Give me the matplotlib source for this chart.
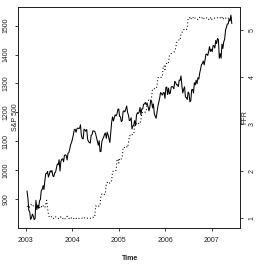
import matplotlib
matplotlib.use("Agg")
import matplotlib.pyplot as plt
import numpy as np
import pandas as pd

# Weekly S&P 500 closes (Fridays), Jan 2003 - Jun 2007
sp_2003 = [927.6, 901.8, 861.4, 855.7, 829.7, 834.9, 848.2, 841.2, 828.9, 833.3, 895.8, 863.5,
           878.9, 868.3, 893.6, 898.8, 930.1, 933.4, 946.7, 933.2, 963.6, 987.8, 988.6, 995.7,
           976.2, 985.7, 998.1, 993.3, 998.7, 980.2, 977.6, 990.7, 993.1, 1008.0, 1021.4, 1018.6,
           1036.3, 996.9, 1029.9, 1038.1, 1039.3, 1028.9, 1050.7, 1053.2, 1050.4, 1035.3, 1058.2,
           1061.5, 1074.1, 1088.7, 1095.9]
sp_2004 = [1108.5, 1121.9, 1139.8, 1141.6, 1131.1, 1142.8, 1145.8, 1144.1, 1144.9, 1156.9, 1120.6,
           1109.8, 1108.1, 1141.8, 1139.3, 1134.6, 1140.6, 1107.3, 1098.7, 1095.7, 1093.6, 1120.7,
           1122.5, 1136.5, 1135.0, 1134.4, 1125.4, 1112.8, 1101.4, 1086.2, 1101.7, 1064.0, 1064.8,
           1098.6, 1107.8, 1113.6, 1123.9, 1128.6, 1110.1, 1131.5, 1122.1, 1108.2, 1095.7, 1130.2,
           1166.2, 1184.2, 1170.3, 1182.7, 1191.2, 1188.0, 1194.2, 1210.1, 1211.9]
sp_2005 = [1186.2, 1184.5, 1167.9, 1171.4, 1203.0, 1205.3, 1201.6, 1211.4, 1222.1, 1200.1, 1190.2,
           1171.4, 1172.9, 1181.2, 1142.6, 1152.1, 1156.9, 1171.4, 1154.1, 1189.3, 1198.8, 1196.0,
           1200.9, 1217.0, 1191.6, 1211.9, 1211.9, 1227.9, 1229.0, 1234.2, 1226.4, 1230.4, 1219.7,
           1205.1, 1218.0, 1241.5, 1237.9, 1215.3, 1228.8, 1195.9, 1186.6, 1179.6, 1198.4, 1220.1,
           1234.7, 1248.3, 1268.3, 1265.1, 1259.4, 1267.3, 1268.7, 1248.3]
sp_2006 = [1285.5, 1287.6, 1261.5, 1283.7, 1264.0, 1266.9, 1287.2, 1289.4, 1287.2, 1281.4, 1307.3,
           1302.9, 1294.9, 1295.5, 1289.1, 1311.3, 1310.6, 1325.8, 1291.2, 1267.0, 1280.2, 1288.2,
           1252.3, 1251.5, 1244.5, 1270.2, 1265.5, 1236.2, 1240.3, 1278.6, 1279.4, 1266.7, 1302.3,
           1295.1, 1311.0, 1298.9, 1319.7, 1314.8, 1335.9, 1349.6, 1365.6, 1368.6, 1377.3, 1364.3,
           1380.9, 1401.2, 1401.0, 1396.7, 1409.8, 1427.1, 1410.8, 1418.3]
sp_2007 = [1409.7, 1430.7, 1430.5, 1422.2, 1448.4, 1438.1, 1455.5, 1451.2, 1387.2, 1402.8, 1387.0,
           1436.1, 1420.9, 1443.8, 1452.9, 1484.4, 1494.1, 1505.6, 1505.9, 1522.8, 1515.7, 1536.3,
           1507.7]

# Weekly effective federal funds rate (%)
ffr_2003 = [1.24, 1.27, 1.25, 1.23, 1.26, 1.30, 1.27, 1.26, 1.25, 1.24, 1.23, 1.26, 1.25, 1.27,
            1.22, 1.26, 1.24, 1.28, 1.26, 1.25, 1.22, 1.30, 1.38, 1.21,
            1.08, 1.02, 1.03, 1.04, 1.01, 1.02, 0.99, 1.00, 1.03, 1.01, 1.00, 0.99, 1.01, 1.00,
            1.03, 1.00, 0.99, 1.01, 0.98, 0.99, 1.00, 1.04, 1.00, 0.99, 1.00, 0.98, 1.01]
ffr_2004 = [1.00, 0.98, 1.00, 1.01, 0.99, 1.01, 1.00, 0.99, 1.00, 1.00, 0.99, 1.00, 0.98, 1.00,
            1.01, 1.00, 0.99, 1.00, 1.00, 1.01, 1.00, 0.99, 1.00, 1.02, 1.01, 1.03,
            1.26, 1.25, 1.27, 1.26, 1.25, 1.28,
            1.49, 1.51, 1.50, 1.52, 1.50, 1.53,
            1.74, 1.76, 1.74, 1.76, 1.74, 1.77, 1.80,
            1.99, 2.00, 2.01, 2.00, 2.02,
            2.23, 2.26, 2.17]
ffr_2005 = [2.27, 2.25, 2.26, 2.28,
            2.50, 2.51, 2.49, 2.50, 2.52, 2.50, 2.60,
            2.74, 2.76, 2.75, 2.78, 2.77, 2.80,
            2.97, 3.00, 3.01, 2.99, 3.02, 3.00, 3.01, 3.08,
            3.24, 3.25, 3.27, 3.26, 3.25, 3.28,
            3.48, 3.50, 3.51, 3.50, 3.49, 3.58,
            3.73, 3.76, 3.75, 3.77, 3.76, 3.80,
            3.98, 4.00, 4.01, 4.00, 3.99, 4.02,
            4.22, 4.24, 4.16]
ffr_2006 = [4.28, 4.29, 4.27, 4.31,
            4.46, 4.49, 4.50, 4.51, 4.52, 4.53, 4.55, 4.61,
            4.73, 4.77, 4.78, 4.79, 4.78, 4.92,
            4.94, 4.99, 5.01, 5.00, 4.99, 5.01, 5.05,
            5.24, 5.27, 5.26, 5.22, 5.27, 5.28, 5.25, 5.23, 5.26, 5.25, 5.24, 5.22, 5.25, 5.27,
            5.24, 5.25, 5.26, 5.28, 5.24, 5.23, 5.25, 5.26, 5.24, 5.22, 5.26, 5.27, 5.21]
ffr_2007 = [5.24, 5.25, 5.26, 5.25, 5.26, 5.25, 5.26, 5.24, 5.25, 5.26, 5.24, 5.27, 5.22, 5.25,
            5.24, 5.26, 5.23, 5.24, 5.25, 5.26, 5.25, 5.27, 5.25]

x_ticks = [2003, 2004, 2005, 2006, 2007]
sp_ticks = [900, 1000, 1100, 1200, 1300, 1400, 1500]
ffr_ticks = [1, 2, 3, 4, 5]

sp = np.array(sp_2003 + sp_2004 + sp_2005 + sp_2006 + sp_2007)
ffr = np.array(ffr_2003 + ffr_2004 + ffr_2005 + ffr_2006 + ffr_2007)
dates = pd.date_range("2003-01-10", periods=len(sp), freq="W-FRI")
t = dates.year + (dates.dayofyear - 1) / 365.0

plt.rcParams['font.family'] = ['Liberation Sans', 'DejaVu Sans']
fs = 5.0
W, H = 262, 264
fig = plt.figure(figsize=(W / 100, H / 100), dpi=100)
L, R, T, B = 18, 240, 6.5, 228
ax = fig.add_axes([L / W, 1 - B / H, (R - L) / W, (B - T) / H])
ax2 = ax.twinx()

col = '#222222'
ax.plot(t, sp, color='black', lw=0.75)
ax2.plot(t, ffr, color='black', lw=0.75, linestyle=(0, (1, 2.2)))

ax.set_xlim(2002.83, 2007.61)
ax.set_ylim(800, 1566)
ax2.set_ylim(0.79, 5.5)

ax.set_xticks(x_ticks)
ax.set_xticklabels([str(v) for v in x_ticks])
ax.set_yticks(sp_ticks)
ax.set_yticklabels([str(v) for v in sp_ticks], rotation=90, va='center')
ax2.set_yticks(ffr_ticks)
ax2.set_yticklabels([str(v) for v in ffr_ticks], rotation=90, va='center')

for a in (ax, ax2):
    for s in a.spines.values():
        s.set_linewidth(0.7)
        s.set_color(col)
ax.tick_params(axis='both', length=2.3, width=0.6, color=col, labelsize=fs, labelcolor=col)
ax.tick_params(axis='x', pad=4.0)
ax.tick_params(axis='y', pad=4.0)
ax2.tick_params(axis='y', length=2.3, width=0.6, color=col, labelsize=fs, labelcolor=col, pad=4.0)

fig.text(130 / W, 1 - 258 / H, 'Time', ha='center', va='center', fontsize=fs, weight='bold', color=col)
fig.text(15.5 / W, 1 - 117 / H, 'S&P 500', ha='center', va='center', rotation=90, fontsize=fs, color=col)
fig.text(245 / W, 1 - 117 / H, 'FFR', ha='center', va='center', rotation=90, fontsize=fs, color=col)

fig.savefig('out.png', dpi=100)
